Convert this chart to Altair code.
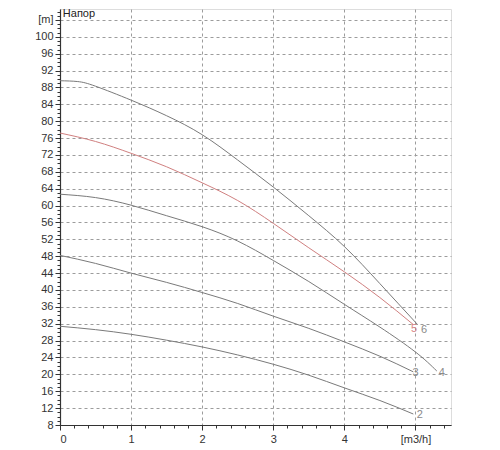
import altair as alt
import pandas as pd

# ---- data ----
Q = [0.0, 0.5, 1.0, 1.5, 2.0, 2.5, 3.0, 3.5, 4.0, 4.5]

Q2 = Q + [4.97]
H2 = [31.4, 30.6, 29.5, 28.1, 26.5, 24.6, 22.4, 19.8, 16.8, 13.8, 10.6]

Q3 = Q + [4.97]
H3 = [48.2, 46.3, 44.0, 41.8, 39.4, 36.8, 33.8, 30.9, 27.7, 24.3, 20.6]

Q4 = Q + [5.0, 5.3]
H4 = [62.7, 61.9, 60.1, 57.6, 55.0, 51.6, 47.0, 42.0, 36.6, 31.2, 25.3, 20.8]

Q5 = Q + [4.97]
H5 = [77.2, 75.2, 72.4, 69.2, 65.4, 61.2, 55.8, 50.0, 44.3, 38.2, 31.8]

Q6 = [0.0, 0.25] + Q[1:] + [5.03]
H6 = [89.6, 89.4, 88.3, 85.0, 81.3, 76.8, 70.8, 64.4, 57.6, 50.3, 41.5, 31.8]

curve_names = ["2", "3", "4", "5", "6"]
curve_colors = ["#7a7a7a", "#7a7a7a", "#7a7a7a", "#d08080", "#7a7a7a"]

label_text = ["2", "3", "4", "5", "6"]
label_q = [5.06, 5.0, 5.37, 4.98, 5.12]
label_h = [10.3, 20.3, 20.3, 30.7, 30.4]
label_colors = ["#8a8a8a", "#8a8a8a", "#8a8a8a", "#d88585", "#8a8a8a"]

title_text = ["Напор"]
title_q = [0.04]
title_h = [105.3]

x_major = [0, 1, 2, 3, 4, 5]
y_major = list(range(8, 105, 4))
x_minor = [round(i * 0.2, 1) for i in range(28)]
y_minor = list(range(8, 107))

X_DOMAIN = [0, 5.5]
Y_DOMAIN = [8, 106.6]

# ---- tables ----
rows = []
for name, col, qs, hs in zip(curve_names, curve_colors, [Q2, Q3, Q4, Q5, Q6], [H2, H3, H4, H5, H6]):
    for i, (q, h) in enumerate(zip(qs, hs)):
        rows.append({"curve": name, "c": col, "q": q, "h": h, "i": i})
df = pd.DataFrame(rows)
labels_df = pd.DataFrame({"t": label_text, "q": label_q, "h": label_h, "c": label_colors})
title_df = pd.DataFrame({"t": title_text, "q": title_q, "h": title_h})

FONT = "Liberation Sans"

xs = alt.Scale(domain=X_DOMAIN, nice=False, zero=False)
ys = alt.Scale(domain=Y_DOMAIN, nice=False, zero=False)

x_axis = alt.Axis(
    values=x_major, orient="bottom", title=None,
    labelExpr="datum.value == 5 ? '[m3/h]' : datum.label",
    grid=True, gridDash=[3, 3], gridColor="#9c9c9c", gridWidth=1,
    tickSize=5, tickColor="#333333", domainColor="#333333", domainWidth=1.2,
    labelFont=FONT, labelFontSize=11, labelColor="#333333", labelPadding=3,
)
y_axis = alt.Axis(
    values=y_major, orient="left", title=None,
    labelExpr="datum.value == 104 ? '[m]' : datum.label",
    grid=True, gridDash=[3, 3], gridColor="#9c9c9c", gridWidth=1,
    tickSize=5, tickColor="#333333", domainColor="#333333", domainWidth=1.2,
    labelFont=FONT, labelFontSize=11, labelColor="#333333", labelPadding=2,
)

lines = alt.Chart(df).mark_line(strokeWidth=1, interpolate="natural").encode(
    x=alt.X("q:Q", scale=xs, axis=x_axis),
    y=alt.Y("h:Q", scale=ys, axis=y_axis),
    detail="curve:N",
    color=alt.Color("c:N", scale=None),
    order="i:Q",
)

labels = alt.Chart(labels_df).mark_text(
    font=FONT, fontSize=11, align="center", baseline="middle"
).encode(
    x=alt.X("q:Q", scale=xs, axis=None),
    y=alt.Y("h:Q", scale=ys, axis=None),
    text="t:N",
    color=alt.Color("c:N", scale=None),
)

title = alt.Chart(title_df).mark_text(
    font=FONT, fontSize=11, align="left", baseline="middle", color="#222222"
).encode(
    x=alt.X("q:Q", scale=xs, axis=None),
    y=alt.Y("h:Q", scale=ys, axis=None),
    text="t:N",
)

minor = alt.Chart(df).mark_point(opacity=0, size=1).encode(
    x=alt.X("q:Q", scale=xs, axis=alt.Axis(
        values=x_minor, orient="bottom", title=None, labels=False, grid=False,
        domain=False, tickSize=3, tickColor="#333333")),
    y=alt.Y("h:Q", scale=ys, axis=alt.Axis(
        values=y_minor, orient="left", title=None, labels=False, grid=False,
        domain=False, tickSize=3, tickColor="#333333")),
)

chart = alt.layer(lines, labels, title, minor).resolve_axis(
    x="independent", y="independent"
).properties(
    width=391, height=416,
    padding={"left": 26, "top": 0, "right": 5, "bottom": 5},
).configure_view(
    stroke="#808080", strokeWidth=1.5
).configure(
    background="white"
)

chart.save("out.html", embed_options={"renderer": "svg", "actions": False})
